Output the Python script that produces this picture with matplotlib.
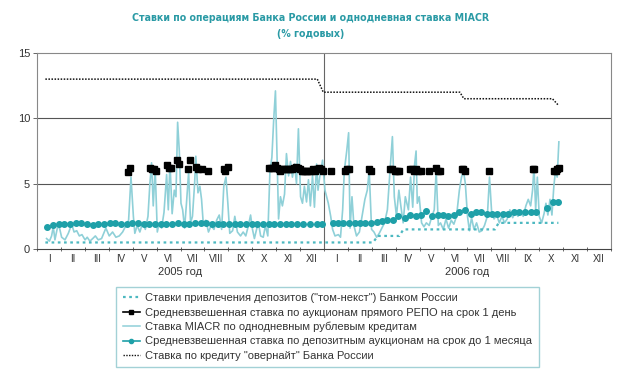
import matplotlib
matplotlib.use("Agg")
import matplotlib.pyplot as plt
from matplotlib.lines import Line2D
from matplotlib import font_manager

plt.rcParams['font.family'] = ['Liberation Sans', 'DejaVu Sans']

# ---------------- data (x in months since 1 Jan 2005) ----------------
months_roman = ["I", "II", "III", "IV", "V", "VI", "VII", "VIII", "IX", "X", "XI", "XII"]
years = ["2005 год", "2006 год"]

overnight_month = [0.35, 11.72, 11.97, 17.68, 17.85, 21.55, 21.8]
overnight_rate = [13.0, 13.0, 12.0, 12.0, 11.5, 11.5, 11.0]

tomnext_month = [0.35, 14.05, 14.25, 15.15, 15.32, 19.15, 19.3, 21.8]
tomnext_rate = [0.5, 0.5, 1.0, 1.0, 1.5, 1.5, 2.0, 2.0]

miacr_month = [
    0.40, 0.52, 0.61, 0.68, 0.75, 0.85, 0.93, 1.03, 1.17, 1.31, 1.45, 1.55, 1.66, 1.77, 1.88,
    2.01, 2.10, 2.21, 2.33, 2.44, 2.56, 2.70, 2.88, 3.02, 3.16, 3.30, 3.44, 3.58, 3.72, 3.83,
    3.93, 4.03, 4.09, 4.19, 4.30, 4.42, 4.53, 4.64, 4.72, 4.79, 4.86, 4.94, 5.03, 5.11, 5.21,
    5.31, 5.42, 5.49, 5.56, 5.65, 5.74, 5.81, 5.88, 5.95, 6.02, 6.09, 6.17, 6.25, 6.34, 6.42,
    6.50, 6.59, 6.64, 6.73, 6.81, 6.88, 6.95, 7.06, 7.17, 7.28, 7.40, 7.51, 7.62, 7.72, 7.81,
    7.90, 7.98, 8.06, 8.18, 8.27, 8.38, 8.51, 8.62, 8.73, 8.84, 8.93, 9.01, 9.09, 9.18, 9.26,
    9.35, 9.46, 9.55, 9.65, 9.74, 9.82, 9.90, 9.97, 10.04, 10.10, 10.18, 10.26, 10.35, 10.43,
    10.52, 10.60, 10.68, 10.77, 10.85, 10.93, 11.02, 11.10, 11.18, 11.27, 11.35, 11.43, 11.52,
    11.60, 11.69, 11.75, 11.82, 11.94, 12.04, 12.18, 12.28, 12.36, 12.46, 12.60, 12.69, 12.78,
    12.85, 12.95, 13.03, 13.09, 13.17, 13.25, 13.36, 13.48, 13.59, 13.71, 13.81, 13.89, 13.99,
    14.09, 14.20, 14.31, 14.42, 14.53, 14.65, 14.76, 14.86, 14.94, 15.03, 15.13, 15.22, 15.31,
    15.40, 15.53, 15.62, 15.71, 15.79, 15.85, 15.90, 15.98, 16.08, 16.18, 16.28, 16.40, 16.51,
    16.61, 16.69, 16.78, 16.87, 16.99, 17.10, 17.21, 17.32, 17.43, 17.54, 17.66, 17.75, 17.83,
    17.91, 18.00, 18.08, 18.17, 18.27, 18.38, 18.49, 18.60, 18.71, 18.83, 18.92, 19.01, 19.11,
    19.22, 19.33, 19.44, 19.55, 19.66, 19.77, 19.89, 20.00, 20.11, 20.22, 20.33, 20.44, 20.54,
    20.64, 20.72, 20.78, 20.85, 20.92, 21.00, 21.10, 21.20, 21.28, 21.36, 21.45, 21.53, 21.61,
    21.68, 21.75, 21.82]
miacr_rate = [
    0.8, 0.6, 1.0, 1.7, 0.7, 1.6, 1.7, 0.9, 0.7, 1.2, 1.9, 1.3, 1.4, 1.0, 1.1,
    0.7, 0.9, 0.6, 0.8, 1.0, 0.7, 0.8, 1.6, 1.0, 1.3, 0.9, 1.0, 1.3, 1.8, 2.2,
    5.5, 2.5, 1.2, 1.8, 1.3, 2.0, 1.5, 2.5, 5.0, 6.6, 3.3, 6.2, 1.3, 2.0, 1.6,
    2.8, 5.7, 3.0, 6.6, 2.7, 4.5, 4.0, 9.7, 7.5, 3.5, 3.0, 1.6, 3.5, 5.9, 2.0,
    2.5, 5.0, 7.1, 4.3, 4.8, 3.8, 2.0, 2.2, 1.3, 1.8, 1.5, 2.2, 2.6, 1.5, 4.8,
    5.5, 3.5, 1.2, 1.4, 2.5, 1.3, 1.0, 1.3, 1.0, 1.8, 2.6, 1.5, 0.8, 1.5, 2.0,
    1.0, 0.9, 1.8, 1.0, 6.0, 7.0, 10.0, 12.1, 7.0, 2.3, 4.0, 3.3, 4.2, 7.3,
    5.6, 6.7, 5.5, 6.5, 5.0, 9.2, 4.0, 3.5, 4.8, 3.6, 5.3, 3.3, 5.6,
    3.2, 6.5, 4.5, 5.5, 6.8, 4.5, 3.5, 2.5, 1.5, 1.0, 1.1, 0.9, 3.0,
    6.0, 7.5, 8.9, 1.6, 4.0, 1.8, 1.0, 1.3, 2.5, 3.8, 4.5, 6.0, 1.5,
    1.3, 0.9, 1.2, 1.6, 2.0, 3.0, 6.0, 8.6, 4.0, 2.5, 4.5, 3.2, 2.0,
    4.0, 3.0, 5.5, 3.2, 6.5, 7.5, 3.5, 4.0, 2.0, 1.7, 2.0, 1.8, 2.5,
    3.0, 6.0, 1.8, 2.0, 1.5, 2.3, 1.6, 2.2, 1.9, 2.5, 4.5, 5.5, 6.0,
    5.0, 2.5, 1.4, 2.4, 1.5, 2.0, 1.3, 1.4, 1.8, 2.5, 5.5, 2.8, 2.3,
    2.6, 2.0, 2.5, 2.0, 2.3, 3.0, 2.4, 2.8, 2.5, 2.8, 2.5, 3.3, 3.8,
    3.3, 4.5, 6.3, 3.0, 5.5, 2.5, 2.0, 2.7, 3.5, 2.6, 3.8, 2.6, 4.8,
    6.0, 5.5, 8.2]

deposit_month = [
    0.43, 0.67, 0.90, 1.14, 1.38, 1.62, 1.85, 2.09, 2.33, 2.57, 2.80, 3.04, 3.28, 3.52, 3.75,
    3.99, 4.23, 4.46, 4.70, 4.94, 5.18, 5.41, 5.65, 5.89, 6.13, 6.36, 6.60, 6.84, 7.08, 7.31,
    7.55, 7.79, 8.03, 8.26, 8.50, 8.74, 8.98, 9.21, 9.45, 9.69, 9.93, 10.16, 10.40, 10.64,
    10.88, 11.11, 11.41, 11.69, 11.93,
    12.39, 12.60, 12.81, 13.06, 13.29, 13.50, 13.71, 13.96, 14.20, 14.41, 14.65, 14.87, 15.11,
    15.38, 15.59, 15.84, 16.04, 16.25, 16.50, 16.75, 16.96, 17.20, 17.43, 17.66, 17.89, 18.13,
    18.35, 18.56, 18.80, 19.01, 19.24, 19.50, 19.70, 19.94, 20.16, 20.40, 20.64, 20.86, 21.33,
    21.58, 21.79]
deposit_rate = [
    1.7, 1.85, 1.9, 1.95, 1.95, 2.0, 2.0, 1.95, 1.8, 1.9, 1.95, 2.0, 2.0, 1.95, 1.9,
    2.0, 2.0, 1.95, 1.95, 1.95, 1.95, 1.95, 1.95, 2.0, 1.95, 1.95, 2.0, 2.0, 2.0, 1.95,
    1.95, 1.95, 1.95, 1.95, 1.95, 1.95, 1.95, 1.95, 1.95, 1.95, 1.95, 1.95, 1.95, 1.95,
    1.95, 1.95, 1.95, 1.9, 1.95,
    2.0, 2.0, 2.0, 2.0, 2.0, 2.0, 2.0, 2.0, 2.1, 2.15, 2.2, 2.2, 2.5,
    2.4, 2.6, 2.55, 2.6, 2.9, 2.5, 2.6, 2.6, 2.5, 2.6, 2.85, 2.95, 2.7,
    2.8, 2.8, 2.7, 2.7, 2.65, 2.65, 2.65, 2.8, 2.8, 2.8, 2.8, 2.85, 3.1,
    3.6, 3.6]

repo_month = [
    3.82, 3.90, 4.72, 4.80, 4.88, 4.96, 5.42, 5.50, 5.60, 5.85, 5.92, 6.30, 6.38, 6.65, 6.75,
    6.90, 7.15, 7.80, 7.88, 7.98,
    9.72, 9.80, 9.88, 9.95, 10.02, 10.10, 10.18, 10.26, 10.34, 10.42, 10.50, 10.58, 10.66,
    10.74, 10.82, 10.90, 10.98, 11.06, 11.14, 11.22, 11.30, 11.38, 11.46, 11.54, 11.62,
    11.70, 11.78, 11.86, 11.94,
    12.30, 12.88, 12.95, 13.03, 13.90, 13.95, 14.75, 14.85, 14.95, 15.05, 15.15, 15.60, 15.68,
    15.76, 15.85, 15.93, 16.05, 16.38, 16.70, 16.78, 16.85, 17.75, 17.82, 17.90, 18.90, 20.72,
    20.80, 21.60, 21.68, 21.76, 21.84]
repo_rate = [
    5.9, 6.2, 6.2, 6.1, 6.1, 6.0, 6.4, 6.2, 6.2, 6.8, 6.5, 6.1, 6.8, 6.3, 6.1,
    6.1, 6.0, 6.1, 6.0, 6.3,
    6.2, 6.2, 6.2, 6.4, 6.2, 6.1, 6.0, 6.1, 6.1, 6.1, 6.1, 6.1, 6.1,
    6.2, 6.3, 6.2, 6.1, 6.0, 6.0, 6.0, 6.0, 6.0, 6.0, 6.1, 6.0,
    6.1, 6.2, 6.1, 6.0,
    6.0, 6.0, 6.1, 6.1, 6.1, 6.0, 6.1, 6.1, 6.0, 6.0, 6.0, 6.1, 6.1,
    6.0, 6.1, 6.0, 6.0, 6.0, 6.2, 6.0, 6.0, 6.1, 6.1, 6.0, 6.0, 6.1,
    6.1, 6.0, 6.0, 6.1, 6.2]

labels = [
    'Ставки привлечения депозитов ("том-некст") Банком России',
    'Средневзвешенная ставка по аукционам прямого РЕПО на срок 1 день',
    'Ставка MIACR по однодневным рублевым кредитам',
    'Средневзвешенная ставка по депозитным аукционам на срок до 1 месяца',
    'Ставка по кредиту "овернайт" Банка России',
]
title = "Ставки по операциям Банка России и однодневная ставка MIACR\n(% годовых)"

# ---------------- styling ----------------
c_miacr = "#8fd0d8"
c_dep = "#1ea0a8"
c_tom = "#4cb8c0"
c_grid = "#555555"
c_text = "#333333"

# pick a condensed bold face for the title if one is installed
title_kw = dict(family=["Liberation Sans", "DejaVu Sans"], fontsize=7.0)
cond = [f for f in font_manager.fontManager.ttflist
        if f.name == "Liberation Sans Narrow" and f.weight in (700, "bold")]
if cond:
    title_kw = dict(family=["Liberation Sans Narrow", "DejaVu Sans"], fontsize=8.8)
else:
    dvc = [f for f in font_manager.fontManager.ttflist
           if f.name == "DejaVu Sans" and str(f.stretch) in ("condensed", "semi-condensed")]
    if dvc:
        title_kw = dict(family=["DejaVu Sans"], fontstretch="condensed", fontsize=7.6)

fig = plt.figure(figsize=(6.22, 3.76), dpi=100)
ax = fig.add_axes([37 / 622, 1 - 249 / 376, (611 - 37) / 622, (249 - 53) / 376])

ax.set_xlim(0, 24)
ax.set_ylim(0, 15)

for y in (5, 10):
    ax.axhline(y, color=c_grid, lw=0.8, zorder=1)
ax.axvline(12, color="#666666", lw=0.8, zorder=1)

ax.plot(miacr_month, miacr_rate, color=c_miacr, lw=1.2, zorder=2)
ax.plot(tomnext_month, tomnext_rate, color=c_tom, lw=1.6, ls=(0, (1.2, 1.6)), zorder=3)
ax.plot(overnight_month, overnight_rate, color="#111111", lw=1.1, ls=(0, (1, 1)), zorder=3)
ax.plot(deposit_month, deposit_rate, ls="none", marker="o", ms=4, color=c_dep,
        mec=c_dep, zorder=4)
ax.plot(repo_month, repo_rate, ls="none", marker="s", ms=4, color="#000000", zorder=5)

for s in ("left", "top", "right"):
    ax.spines[s].set_color("#888888")
    ax.spines[s].set_linewidth(0.8)
ax.spines["bottom"].set_color("#444444")
ax.spines["bottom"].set_linewidth(0.8)

ax.set_yticks([0, 5, 10, 15])
ax.tick_params(axis="y", length=3, width=0.7, color="#666666", labelsize=8,
               labelcolor=c_text, pad=2)
ax.set_xticks(range(0, 25))
ax.set_xticklabels([])
ax.tick_params(axis="x", length=3, width=0.7, color="#666666", direction="inout")

for i in range(24):
    ax.text(i + 0.5, -0.75, months_roman[i % 12], ha="center", va="center",
            fontsize=7, color=c_text, transform=ax.transData, clip_on=False)
for j, yl in enumerate(years):
    ax.text(6 + 12 * j, -1.75, yl, ha="center", va="center", fontsize=8,
            color=c_text, clip_on=False)

fig.text(0.5, 1 - 26 / 376, title, ha="center", va="center",
         fontweight="bold", color="#2a9aa5", linespacing=1.65, **title_kw)

handles = [
    Line2D([], [], color=c_tom, lw=1.6, ls=(0, (1.2, 1.6))),
    Line2D([], [], color="#000000", lw=1.2, marker="s", ms=3),
    Line2D([], [], color=c_miacr, lw=1.1),
    Line2D([], [], color=c_dep, lw=1.2, marker="o", ms=3),
    Line2D([], [], color="#111111", lw=1.0, ls=(0, (1, 1))),
]
leg = fig.legend(handles, labels, loc="center",
                 bbox_to_anchor=(327.5 / 622, 1 - 327 / 376),
                 fontsize=8, frameon=True, fancybox=False, handlelength=1.5,
                 handletextpad=0.5, labelspacing=0.38, borderpad=0.6,
                 labelcolor=c_text)
leg.get_frame().set_edgecolor("#8cc6cc")
leg.get_frame().set_linewidth(1.0)

fig.savefig("out.png", dpi=100)
